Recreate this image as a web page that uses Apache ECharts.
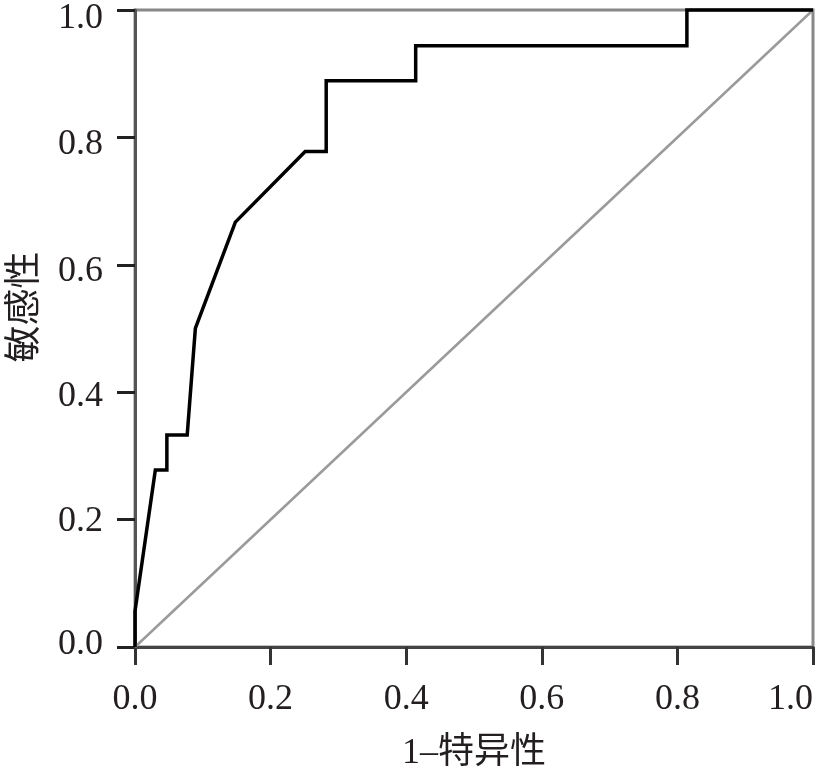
<!DOCTYPE html>
<html>
<head>
<meta charset="utf-8">
<script src="https://cdn.jsdelivr.net/npm/echarts@6/dist/echarts.min.js"></script>
<style>
html,body{margin:0;padding:0;background:#fff;}
#chart{width:820px;height:775px;}
</style>
</head>
<body>
<div id="chart"></div>
<script>
// ROC curve points: [1 - specificity, sensitivity]
const rocX = [0, 0, 0.030, 0.047, 0.047, 0.077, 0.089, 0.148, 0.251, 0.282, 0.282, 0.414, 0.414, 0.814, 0.814, 1.0];
const rocY = [0, 0.056, 0.278, 0.278, 0.333, 0.333, 0.500, 0.667, 0.778, 0.778, 0.889, 0.889, 0.944, 0.944, 1.0, 1.0];
const refX = [0, 1];
const refY = [0, 1];
const xTicks = [0, 0.2, 0.4, 0.6, 0.8, 1.0];
const yTicks = [0, 0.2, 0.4, 0.6, 0.8, 1.0];
const xName = '1–特异性';
const yName = '敏感性';

const FONT = "'Liberation Serif', 'Times New Roman', 'Noto Sans CJK SC', serif";
const chart = echarts.init(document.getElementById('chart'), null, {renderer: 'canvas'});

const pair = (xs, ys) => xs.map((x, i) => [x, ys[i]]);
const near = (a, b) => Math.abs(a - b) < 1e-9;

// small vertical label offsets (px, positive = down) as in the reference
const yShift = {'0.0': -2, '0.2': 2, '0.4': 4, '0.6': 7, '0.8': 7, '1.0': 9};
const yRich = {};
Object.keys(yShift).forEach((k, i) => {
  const d = yShift[k];
  yRich['s' + i] = {
    fontFamily: FONT, fontSize: 36, color: '#231f20',
    padding: d >= 0 ? [2 * d, 0, 0, 0] : [0, 0, -2 * d, 0]
  };
});

chart.setOption({
  animation: false,
  backgroundColor: '#ffffff',
  grid: {
    left: 135, top: 10, right: 7, bottom: 128,
    containLabel: false, outerBoundsMode: 'none',
    show: true, borderColor: '#888888', borderWidth: 3, backgroundColor: 'transparent'
  },
  xAxis: {
    type: 'value', min: 0, max: 1, interval: 0.2,
    name: xName, nameLocation: 'middle', nameGap: 89,
    nameTextStyle: {fontFamily: FONT, fontSize: 36, color: '#231f20'},
    axisLine: {show: true, lineStyle: {color: '#444444', width: 3}},
    axisTick: {show: true, length: 18, lineStyle: {color: '#333333', width: 3}},
    axisLabel: {
      margin: 35, fontFamily: FONT, fontSize: 36, color: '#231f20',
      alignMaxLabel: 'right',
      formatter: v => xTicks.some(t => near(t, v)) ? v.toFixed(1) : ''
    },
    splitLine: {show: false}
  },
  yAxis: {
    type: 'value', min: 0, max: 1, interval: 0.2,
    axisLine: {show: true, lineStyle: {color: '#555555', width: 3}},
    axisTick: {show: true, length: 18, lineStyle: {color: '#222222', width: 3}},
    axisLabel: {
      margin: 32, fontFamily: FONT, fontSize: 36, color: '#231f20',
      rich: yRich,
      formatter: v => {
        if (!yTicks.some(t => near(t, v))) return '';
        const s = v.toFixed(1);
        const idx = Object.keys(yShift).indexOf(s);
        return idx >= 0 ? '{s' + idx + '|' + s + '}' : s;
      }
    },
    splitLine: {show: false}
  },
  graphic: [{
    type: 'text',
    x: 22, y: 307,
    rotation: Math.PI / 2,
    style: {
      text: yName, font: "37px 'Noto Sans CJK SC', 'Liberation Serif', serif",
      fill: '#231f20', align: 'center', verticalAlign: 'middle'
    }
  }],
  series: [
    {
      type: 'line', data: pair(refX, refY), symbol: 'none', clip: false,
      lineStyle: {color: '#9a9a9a', width: 2.5}, z: 2
    },
    {
      type: 'line', data: pair(rocX, rocY), symbol: 'none', clip: false,
      lineStyle: {color: '#000000', width: 3.5, join: 'miter'}, z: 3
    }
  ]
});
</script>
</body>
</html>
